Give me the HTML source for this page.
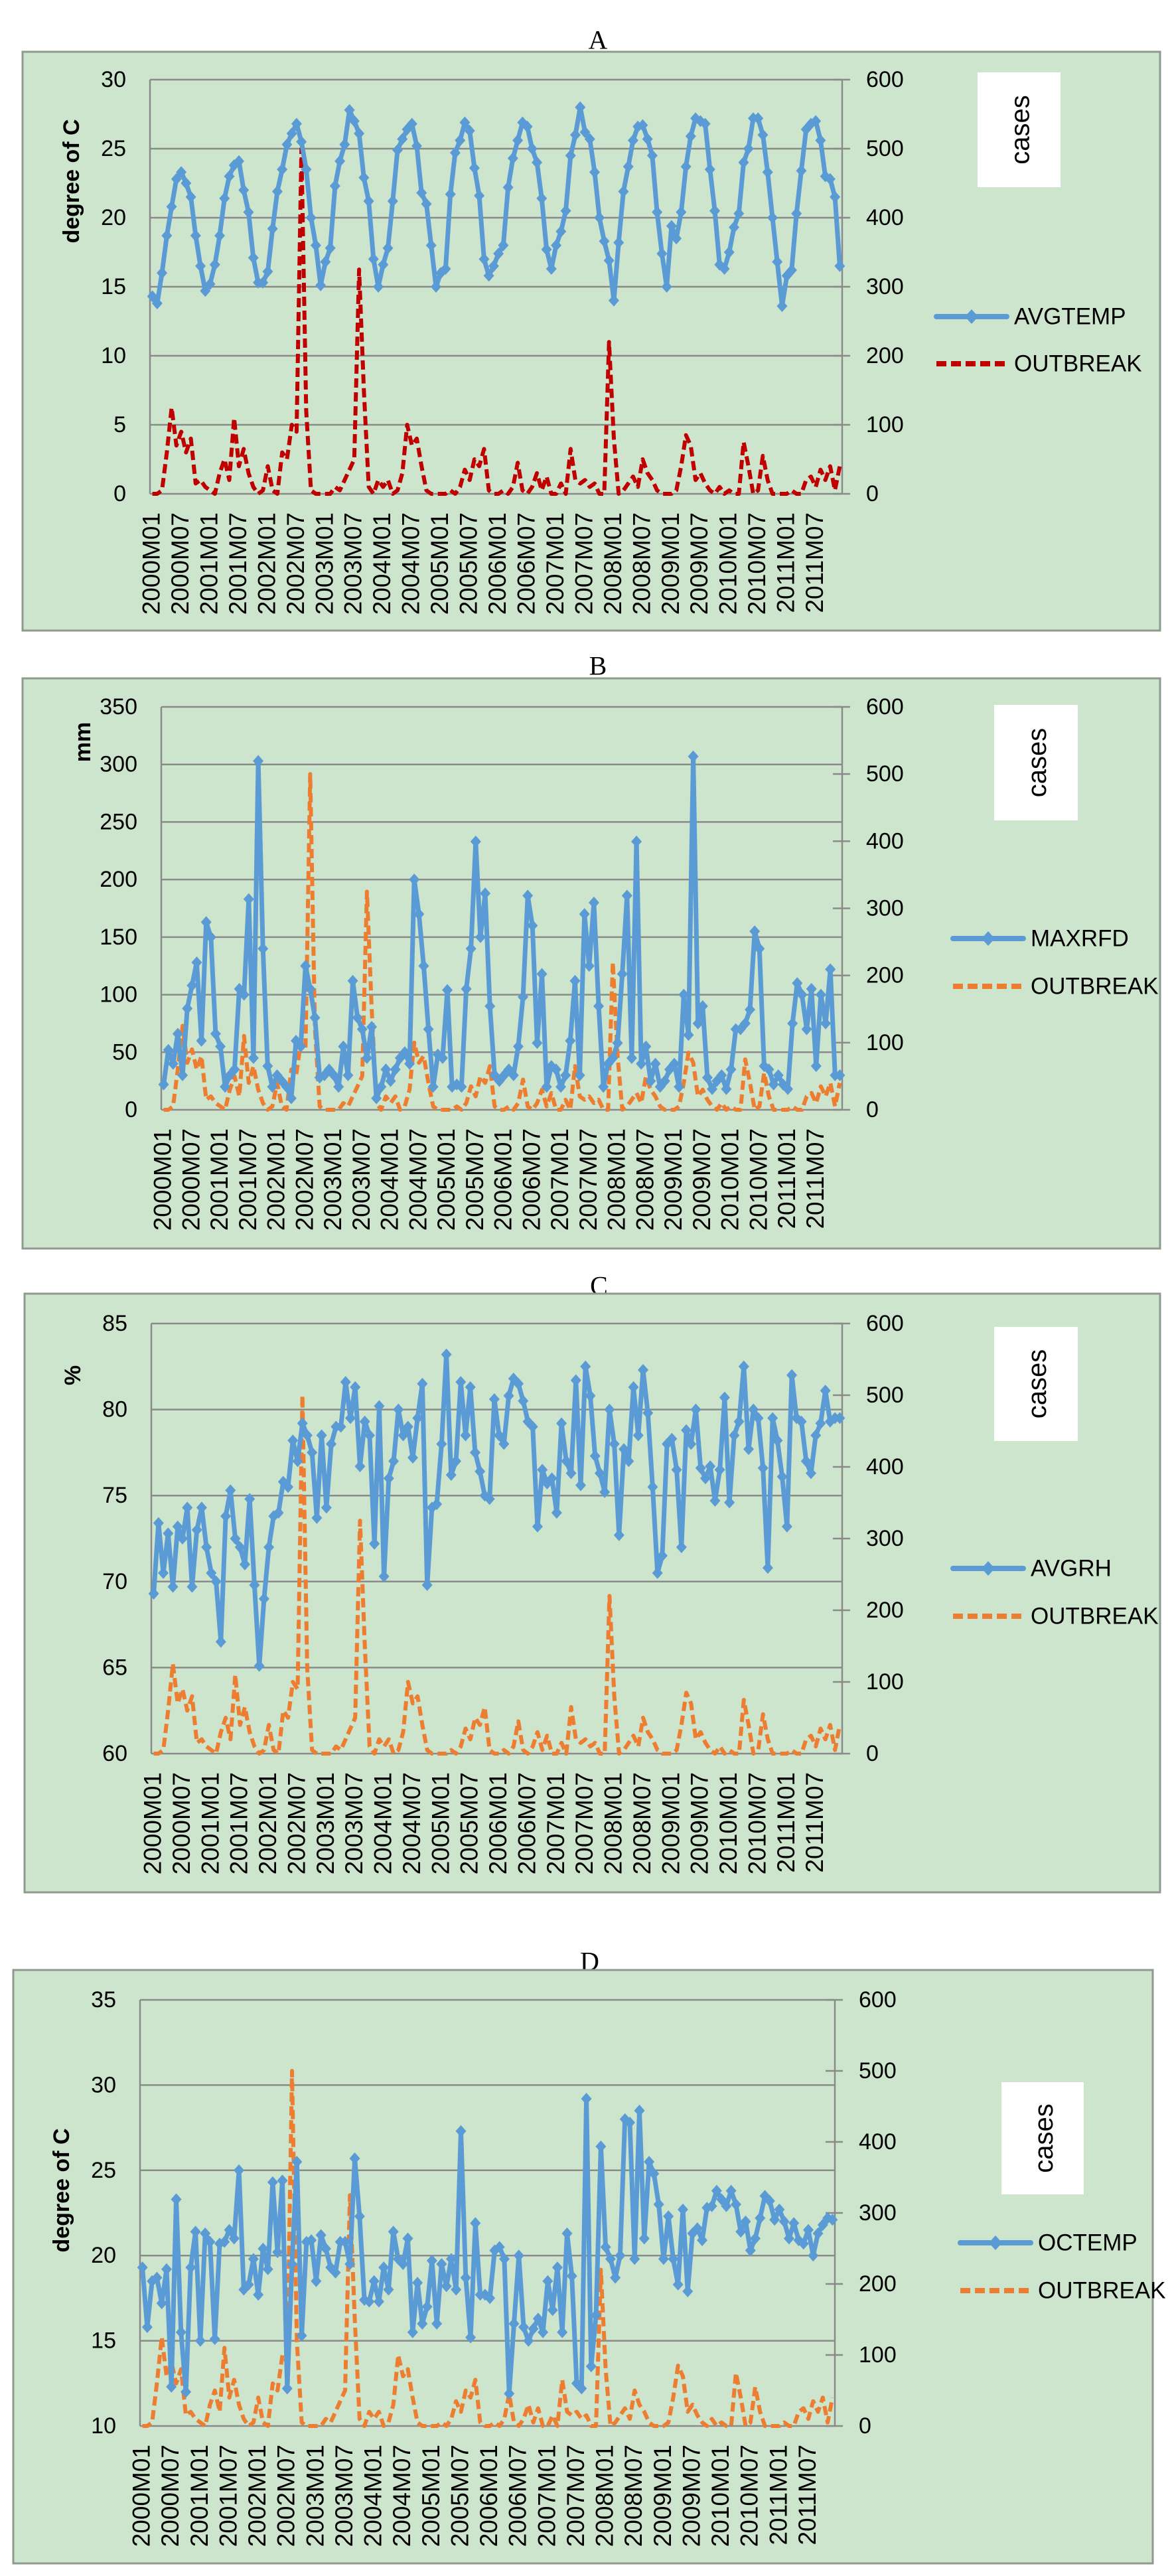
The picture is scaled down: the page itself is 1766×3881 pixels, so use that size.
<!DOCTYPE html>
<html><head><meta charset="utf-8"><title>Climate vs outbreak</title>
<style>
html,body{margin:0;padding:0;background:#fff;}
svg{display:block;}
</style></head>
<body>
<svg id="fig" xmlns="http://www.w3.org/2000/svg" width="1766" height="3881" viewBox="0 0 1766 3881"></svg>
<script>
// ---------- data ----------
const years = ["2000","2001","2002","2003","2004","2005","2006","2007","2008","2009","2010","2011"];
const outbreak = [
0,0,5,60,125,70,90,60,80,15,20,10,
5,0,30,50,20,110,40,65,30,10,0,5,
40,5,0,60,50,100,90,500,120,5,0,0,
0,0,10,5,20,35,50,325,150,10,0,20,
10,20,0,5,30,100,70,80,40,5,0,0,
0,0,5,0,10,35,20,50,40,65,5,0,
0,5,0,10,45,5,0,10,30,5,25,0,
0,15,0,65,20,15,20,10,15,0,0,220,
80,0,5,15,25,10,50,30,20,5,0,0,
0,5,40,85,70,20,30,15,5,0,10,0,
5,0,0,75,40,0,5,55,20,0,0,0,
0,5,0,0,20,25,10,35,20,40,5,40];
const avgtemp = [
14.3,13.8,16,18.7,20.8,22.8,23.3,22.5,21.5,18.7,16.5,14.7,
15.2,16.6,18.7,21.4,23,23.8,24.1,22,20.4,17.1,15.3,15.3,
16.1,19.2,21.9,23.5,25.3,26.1,26.8,25.5,23.5,20,18,15.1,
16.8,17.8,22.3,24.1,25.3,27.8,27,26.1,22.9,21.2,17,15,
16.6,17.8,21.2,24.9,25.7,26.4,26.8,25.2,21.8,21,18,15,
16,16.3,21.7,24.7,25.6,26.9,26.3,23.6,21.6,17,15.8,16.5,
17.4,18,22.2,24.3,25.6,26.9,26.6,25,24,21.4,17.7,16.3,
18,19,20.5,24.5,26,28,26.2,25.7,23.3,20,18.3,16.9,
14,18.2,21.9,23.7,25.6,26.6,26.7,25.7,24.5,20.4,17.4,15,
19.4,18.5,20.4,23.7,25.9,27.2,27,26.8,23.5,20.5,16.6,16.3,
17.5,19.3,20.3,24,25,27.2,27.2,26,23.3,20,16.8,13.6,
15.8,16.2,20.3,23.4,26.4,26.8,27,25.6,23,22.8,21.5,16.5];
const maxrfd = [
22,52,40,66,30,88,108,128,60,163,150,66,
55,20,30,35,105,100,183,45,303,140,38,20,
30,25,20,10,60,55,125,105,80,28,30,35,
30,20,55,30,112,80,70,45,72,10,20,35,
25,35,45,50,40,200,170,125,70,20,48,45,
104,20,22,20,105,140,233,150,188,90,30,25,
30,35,30,55,98,186,160,58,118,20,38,35,
20,30,60,112,30,170,125,180,90,20,40,45,
58,118,186,45,233,40,55,25,40,20,25,35,
40,20,100,65,307,75,90,28,18,25,30,18,
35,70,70,75,87,155,140,38,35,22,30,22,
18,75,110,100,70,105,38,100,75,122,30,30];
const avgrh = [
69.3,73.4,70.5,72.8,69.7,73.2,72.5,74.3,69.7,73,74.3,72,
70.5,70,66.5,73.8,75.3,72.5,72,71,74.8,69.8,65.1,69,
72,73.8,74,75.8,75.5,78.2,77,79.2,78.5,77.5,73.7,78.5,
74.3,78,79,79,81.6,79.5,81.3,76.7,79.3,78.5,72.2,80.2,
70.3,76,77,80,78.5,79,77.2,79.5,81.5,69.8,74.3,74.5,
78,83.2,76.2,77,81.6,78.5,81.3,77.5,76.4,75,74.8,80.6,
78.5,78,80.8,81.8,81.5,80.5,79.3,79,73.2,76.5,75.7,76,
74,79.2,77,76.3,81.7,75.6,82.5,80.8,77.3,76.3,75.2,80,
78,72.7,77.7,77,81.3,78.5,82.3,79.8,75.5,70.5,71.5,78,
78.3,76.5,72,78.8,78,80,76.6,76,76.7,74.7,76.5,80.7,
74.6,78.5,79.3,82.5,77.7,80,79.5,76.6,70.8,79.5,78.2,76.1,
73.2,82,79.5,79.3,77,76.3,78.5,79.2,81.1,79.3,79.5,79.5];
const octemp = [
19.3,15.8,18.5,18.7,17.2,19.2,12.3,23.3,15.5,12,19.3,21.4,
15,21.3,20.8,15.1,20.7,20.8,21.5,21,25,18,18.3,19.8,
17.7,20.4,19.2,24.3,20.2,24.4,12.2,19.5,25.5,15.3,20.8,20.9,
18.5,21.2,20.4,19.3,19,20.8,20.8,19.5,25.7,22.3,17.4,17.3,
18.5,17.3,19.3,18,21.4,19.8,19.5,21,15.5,18.4,16,17,
19.7,16,19.5,18.2,19.8,18,27.3,18.7,15.2,21.9,17.7,17.7,
17.5,20.3,20.5,19.8,11.9,16,20,15.8,15,15.7,16.3,15.5,
18.5,16.8,19.3,15.5,21.3,18.8,12.5,12.2,29.2,13.5,16.5,26.4,
20.5,19.8,18.7,20,28,27.8,19.8,28.5,21,25.5,24.8,23,
19.8,22.3,19.8,18.3,22.7,17.9,21.3,21.6,20.9,22.8,22.9,23.8,
23.3,22.9,23.8,23,21.4,22,20.3,21,22.2,23.5,23.2,22.1,
22.7,22,21,21.9,20.9,20.7,21.5,20,21.3,21.8,22.2,22.1];
const leftTicksA = [0,5,10,15,20,25,30];
const leftTicksB = [0,50,100,150,200,250,300,350];
const leftTicksC = [60,65,70,75,80,85];
const leftTicksD = [10,15,20,25,30,35];
const rightTicks = [0,100,200,300,400,500,600];
const xTickLabels = [];
years.forEach(y => { xTickLabels.push(y+"M01"); xTickLabels.push(y+"M07"); });

// ---------- layout ----------
const NS = "http://www.w3.org/2000/svg";
const svg = document.getElementById("fig");
const FONT = '"Liberation Sans", Arial, sans-serif';
const SERIF = '"Liberation Serif", serif';
function mk(tag, attrs, parent) {
  const e = document.createElementNS(NS, tag);
  for (const k in attrs) e.setAttribute(k, attrs[k]);
  (parent || svg).appendChild(e);
  return e;
}

const panels = [
 {key:"a", title:"A", titleY:60, box:[34,78,1714,872], plot:[226,120,1269,744],
  lmin:0,lmax:30,lticks:leftTicksA, ytitle:"degree of C", ytitleY:273,
  series:avgtemp, sname:"AVGTEMP", ocolor:"#c00000",
  cases:[1473,109,125,173], leg1:477, leg2:548},
 {key:"b", title:"B", titleY:1003, box:[34,1022,1714,859], plot:[243,1065,1269,1672],
  lmin:0,lmax:350,lticks:leftTicksB, ytitle:"mm", ytitleY:1118,
  series:maxrfd, sname:"MAXRFD", ocolor:"#ed7d31",
  cases:[1498,1062,126,174], leg1:1414, leg2:1486},
 {key:"c", title:"C", titleY:1937, box:[37,1949,1711,902], plot:[228,1994,1269,2642],
  lmin:60,lmax:85,lticks:leftTicksC, ytitle:"%", ytitleY:2072,
  series:avgrh, sname:"AVGRH", ocolor:"#ed7d31",
  cases:[1498,1999,126,172], leg1:2363, leg2:2435},
 {key:"d", title:"D", titleY:2955, box:[20,2968,1717,894], plot:[211,3013,1258,3655],
  lmin:10,lmax:35,lticks:leftTicksD, ytitle:"degree of C", ytitleY:3300,
  series:octemp, sname:"OCTEMP", ocolor:"#ed7d31",
  cases:[1509,3137,124,169], leg1:3379, leg2:3451}
];

panels.forEach(p => {
  const g = mk("g", {});
  
  
  const [L,T,R,B] = p.plot;
  const n = p.series.length;
  const w = (R - L) / n;
  const xPos = i => L + (i + 0.5) * w;
  const yL = v => B - (v - p.lmin) / (p.lmax - p.lmin) * (B - T);
  const yR = v => B - v / 600 * (B - T);

  const title = mk("text", {x:(p.box[0]+p.box[0]+p.box[2])/2 + 10, y:p.titleY, "text-anchor":"middle", "dominant-baseline":"central", "font-family":SERIF, "font-size":40, fill:"#000"}, g);
  title.textContent = p.title;
  
  

  const bg = mk("rect", {x:p.box[0], y:p.box[1], width:p.box[2], height:p.box[3], fill:"#cde5cc", stroke:"#8f9a8f", "stroke-width":3}, g);
  
  

  // gridlines & left labels
  p.lticks.forEach(t => {
    const y = yL(t);
    const gl = mk("line", {x1:L, x2:R, y1:y, y2:y, stroke:"#8a8a8a", "stroke-width":2.5}, g);
    
    
    const tl = mk("text", {x:L-36, y:y, "text-anchor":"end", "dominant-baseline":"central", "font-family":FONT, "font-size":34, fill:"#000"}, g);
    tl.textContent = t;
    
    
  });
  const la = mk("line", {x1:L, x2:L, y1:T, y2:B, stroke:"#8a8a8a", "stroke-width":2.5}, g);
  
  
  const ra = mk("line", {x1:R, x2:R, y1:T, y2:B, stroke:"#8a8a8a", "stroke-width":2.5}, g);
  
  
  rightTicks.forEach(t => {
    const y = yR(t);
    const tk = mk("line", {x1:R-14, x2:R+12, y1:y, y2:y, stroke:"#8a8a8a", "stroke-width":2.5}, g);
    
    
    const tl = mk("text", {x:R+36, y:y, "text-anchor":"start", "dominant-baseline":"central", "font-family":FONT, "font-size":34, fill:"#000"}, g);
    tl.textContent = t;
    
    
  });

  // y title
  const yt = mk("text", {x:0, y:0, transform:`translate(${L-118},${p.ytitleY}) rotate(-90)`, "text-anchor":"middle", "dominant-baseline":"central", "font-family":FONT, "font-size":34, "font-weight":"bold", fill:"#000"}, g);
  yt.textContent = p.ytitle;
  
  

  // x labels
  xTickLabels.forEach((lab, k) => {
    const x = L + k * 6 * w + 2;
    const t = mk("text", {x:0, y:0, transform:`translate(${x},${B+28}) rotate(-90)`, "text-anchor":"end", "dominant-baseline":"central", "font-family":FONT, "font-size":37, fill:"#000"}, g);
    t.textContent = lab;
    
    
  });

  // outbreak line (dashed)
  const opts = outbreak.map((v,i) => xPos(i).toFixed(1) + "," + yR(v).toFixed(1)).join(" ");
  const ol = mk("polyline", {points:opts, fill:"none", stroke:p.ocolor, "stroke-width":6, "stroke-dasharray":"14,7", "stroke-linejoin":"round"}, g);
  
  

  // main series
  const spts = p.series.map((v,i) => xPos(i).toFixed(1) + "," + yL(v).toFixed(1)).join(" ");
  const sl = mk("polyline", {points:spts, fill:"none", stroke:"#5b9bd5", "stroke-width":7, "stroke-linejoin":"round"}, g);
  
  
  p.series.forEach((v,i) => {
    const x = xPos(i), y = yL(v);
    const d = mk("polygon", {points:`${x},${y-9} ${x+8},${y} ${x},${y+9} ${x-8},${y}`, fill:"#5b9bd5"}, g);
    
    
  });

  // cases box
  const [cx,cy,cw,ch] = p.cases;
  const cb = mk("rect", {x:cx, y:cy, width:cw, height:ch, fill:"#ffffff"}, g);
  
  
  const ct = mk("text", {x:0, y:0, transform:`translate(${cx+cw/2+2},${cy+ch/2}) rotate(-90)`, "text-anchor":"middle", "dominant-baseline":"central", "font-family":FONT, "font-size":40, fill:"#000"}, g);
  ct.textContent = "cases";
  
  

  // legend
  const lx1 = p.cases[0] - 62, lx2 = lx1 + 106;
  const l1 = mk("g", {}, g);
  
  
  mk("line", {x1:lx1, x2:lx2, y1:p.leg1, y2:p.leg1, stroke:"#5b9bd5", "stroke-width":8, "stroke-linecap":"round"}, l1);
  const mx = (lx1+lx2)/2;
  mk("polygon", {points:`${mx},${p.leg1-11} ${mx+10},${p.leg1} ${mx},${p.leg1+11} ${mx-10},${p.leg1}`, fill:"#5b9bd5"}, l1);
  const lt1 = mk("text", {x:lx2+11, y:p.leg1, "dominant-baseline":"central", "font-family":FONT, "font-size":35, fill:"#000"}, l1);
  lt1.textContent = p.sname;
  const l2 = mk("g", {}, g);
  
  
  mk("line", {x1:lx1, x2:lx2, y1:p.leg2, y2:p.leg2, stroke:p.ocolor, "stroke-width":8, "stroke-dasharray":"15,7"}, l2);
  const lt2 = mk("text", {x:lx2+11, y:p.leg2, "dominant-baseline":"central", "font-family":FONT, "font-size":35, fill:"#000"}, l2);
  lt2.textContent = "OUTBREAK";
});
</script>
</body></html>
